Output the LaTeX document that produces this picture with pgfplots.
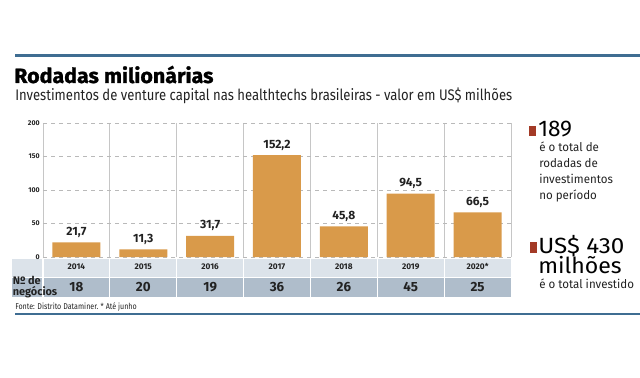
\documentclass[border=0pt]{standalone}
\usepackage{pgfplots}
\pgfplotsset{compat=1.18}
\usepackage{fontspec}
\setmainfont{Fira Sans}
\definecolor{barc}{HTML}{D99A4A}
\definecolor{topc}{HTML}{3F6D92}
\definecolor{rowa}{HTML}{DCE3EA}
\definecolor{rowb}{HTML}{AFBDCB}
\definecolor{redsq}{HTML}{A33A26}
\definecolor{txt}{HTML}{222222}
\begin{document}
\begin{tikzpicture}
\begin{scope}[x=0.75pt,y=-0.75pt]
\path[use as bounding box] (0,0) rectangle (640,378);
\fill[topc] (15,54) rectangle (640,57.5);
\fill[topc] (15,313) rectangle (640,315);
\node[anchor=base west, inner sep=0, text=black] at (14,83) {\scalebox{1.035}[1]{\fontsize{15.5}{15.5}\selectfont\bfseries\addfontfeature{FakeBold=1.2}Rodadas milionárias}};
\node[anchor=base west, inner sep=0, text=txt] at (15,100.5) {\scalebox{0.853}[1]{\fontsize{11.5}{11.5}\selectfont Investimentos de venture capital nas healthtechs brasileiras - valor em US\$ milhões}};
\fill[rowa] (12,258.5) rectangle (511,276.5);
\fill[rowb] (12,277.5) rectangle (511,297);
\foreach \k in {0,...,6} {
  \draw[white, line width=0.9pt] ({43+\k*66.857},258) -- ({43+\k*66.857},297);
}
\node[anchor=west, inner sep=0, align=left, text=txt, font=\fontsize{8.2}{6.6}\selectfont\bfseries] at (12.5,287) {Nº de\\negócios};
\node[anchor=base west, inner sep=0, text=txt] at (15,309) {\scalebox{0.85}[1]{\fontsize{6.3}{6.3}\selectfont Fonte: Distrito Dataminer. * Até junho}};
% right panel
\fill[redsq] (529,126) rectangle (536,136.5);
\node[anchor=base west, inner sep=0, text=black] at (538,136.5) {\fontsize{17}{17}\selectfont 189};
\node[anchor=north west, inner sep=0, align=left, text=txt] at (539,140) {\scalebox{0.96}[1]{\fontsize{9}{12}\selectfont\begin{tabular}{@{}l@{}}é o total de\\rodadas de\\investimentos\\no período\end{tabular}}};
\fill[redsq] (530,242) rectangle (537,253);
\node[anchor=base west, inner sep=0, text=black] at (538,253) {\scalebox{1.1}[1]{\fontsize{16.5}{16.5}\selectfont US\$ 430}};
\node[anchor=base west, inner sep=0, text=black] at (538,273) {\scalebox{1.05}[1]{\fontsize{16.5}{16.5}\selectfont milhões}};
\node[anchor=base west, inner sep=0, text=txt] at (539,288) {\scalebox{0.96}[1]{\fontsize{9}{9}\selectfont é o total investido}};
\end{scope}
\begin{axis}[
  at={(32.25pt,-192.75pt)}, anchor=south west,
  scale only axis, width=351pt, height=100.5pt,
  xmin=-0.5, xmax=6.5, ymin=0, ymax=200,
  clip=false,
  axis line style={draw=none},
  tick style={draw=none},
  xtick={0,...,6},
  xticklabels={2014,2015,2016,2017,2018,2019,2020*},
  xticklabel style={anchor=center, yshift=-7pt, font=\fontsize{6.2}{6.2}\selectfont\bfseries, text=txt},
  ytick={0,50,...,200},
  yticklabel style={font=\fontsize{5.2}{5.2}\selectfont\bfseries, text=txt, xshift=1pt},
  /pgf/number format/assume math mode=true,
  ymajorgrids,
  major grid style={gray!55, dashed, line width=0.5pt},
  minor xtick={-0.5,0.5,...,6.5},
  xminorgrids,
  minor grid style={gray!45, solid, line width=0.7pt},
  nodes near coords style={font=\fontsize{9}{9}\selectfont\bfseries, text=txt},
]
\addplot[ybar, bar width=36pt, fill=barc, draw=none,
  nodes near coords={\pgfmathprintnumber[use comma, fixed, fixed zerofill, precision=1]{\pgfplotspointmeta}},
  nodes near coords align={vertical}]
  coordinates {(0,21.7) (1,11.3) (2,31.7) (3,152.2) (4,45.8) (5,94.5) (6,66.5)};
\addplot[draw=none, mark=none, point meta=explicit symbolic,
  nodes near coords, every node near coord/.append style={anchor=center, font=\fontsize{10}{10}\selectfont\bfseries, text=txt}]
  table[meta=n] {
x y n
0 -44.8 18
1 -44.8 20
2 -44.8 19
3 -44.8 36
4 -44.8 26
5 -44.8 45
6 -44.8 25
};
\end{axis}
\end{tikzpicture}
\end{document}
